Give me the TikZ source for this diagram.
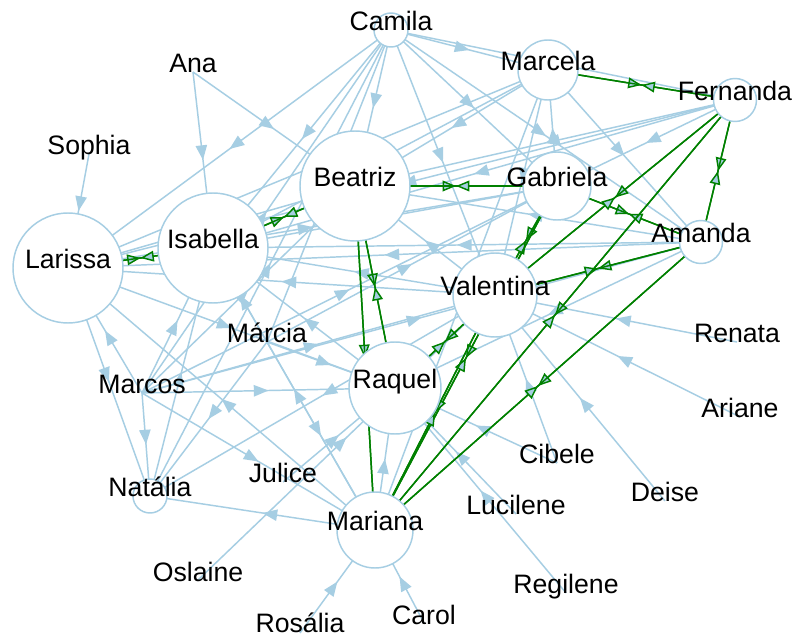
\documentclass[tikz,border=0pt]{standalone}
\usepackage{fontspec}
\setmainfont{Liberation Sans}
\usepackage{xcolor}
\usepackage{tikz}
\usetikzlibrary{arrows.meta,decorations.markings}

\definecolor{edgeblue}{RGB}{166,206,227}
\definecolor{pairgreen}{RGB}{0,128,0}

\pgfdeclarelayer{bg}
\pgfsetlayers{bg,main}

\tikzset{
  vtx/.style={circle, draw=edgeblue, fill=white, line width=1.1pt, inner sep=0pt, minimum size=#1*1.5pt},
  bare/.style={inner sep=0pt, minimum size=0pt},
  lbl/.style={anchor=base, inner sep=0pt, font=\fontsize{20}{21}\selectfont},
  link/.style={edgeblue, line width=1.1pt, postaction={decorate},
    decoration={markings, mark=at position 0.5 with {\arrow{Triangle[length=11pt,width=8.5pt]}}}},
  pair/.style={pairgreen, line width=1.1pt, postaction={decorate},
    decoration={markings, mark=at position 0.5 with {\arrow{Triangle[length=10pt,width=8pt,fill=edgeblue]}}}}
}

\begin{document}
\begin{tikzpicture}[x=0.75pt,y=-0.75pt]
  \useasboundingbox (0,0) rectangle (794,638);

  % Vertices
  \node[vtx=17] (cam) at (391,30) {};
  \node[bare] (ana) at (193,72) {};
  \node[bare] (sop) at (89,154) {};
  \node[vtx=30] (mcl) at (548,70) {};
  \node[vtx=21.5] (fer) at (735,100) {};
  \node[vtx=55] (bea) at (355,186) {};
  \node[vtx=34] (gab) at (557,186) {};
  \node[vtx=55] (isa) at (213,248) {};
  \node[vtx=55] (lar) at (68,268) {};
  \node[vtx=21.5] (ama) at (701,242) {};
  \node[vtx=42] (val) at (495,295) {};
  \node[bare] (ren) at (737,342) {};
  \node[bare] (mci) at (267,342) {};
  \node[bare] (mco) at (142,393) {};
  \node[vtx=46] (raq) at (395,388) {};
  \node[bare] (ari) at (740,417) {};
  \node[bare] (cib) at (557,463) {};
  \node[bare] (jul) at (283,482) {};
  \node[vtx=17] (nat) at (150,496) {};
  \node[vtx=38] (mar) at (375,530) {};
  \node[bare] (luc) at (516,514) {};
  \node[bare] (dei) at (665,501) {};
  \node[bare] (osl) at (198,580) {};
  \node[bare] (reg) at (566,593) {};
  \node[bare] (ros) at (300,633) {};
  \node[bare] (car) at (424,623) {};

  % Labels
  \node[lbl] (cam-t) at (391,31) {Camila};
  \node[lbl] (ana-t) at (193,73) {Ana};
  \node[lbl] (sop-t) at (89,155) {Sophia};
  \node[lbl] (mcl-t) at (548,71) {Marcela};
  \node[lbl] (fer-t) at (735,101) {Fernanda};
  \node[lbl] (bea-t) at (355,187) {Beatriz};
  \node[lbl] (gab-t) at (557,187) {Gabriela};
  \node[lbl] (isa-t) at (213,249) {Isabella};
  \node[lbl] (lar-t) at (68,269) {Larissa};
  \node[lbl] (ama-t) at (701,243) {Amanda};
  \node[lbl] (val-t) at (495,296) {Valentina};
  \node[lbl] (ren-t) at (737,343) {Renata};
  \node[lbl] (mci-t) at (267,343) {Márcia};
  \node[lbl] (mco-t) at (142,394) {Marcos};
  \node[lbl] (raq-t) at (395,389) {Raquel};
  \node[lbl] (ari-t) at (740,418) {Ariane};
  \node[lbl] (cib-t) at (557,464) {Cibele};
  \node[lbl] (jul-t) at (283,483) {Julice};
  \node[lbl] (nat-t) at (150,497) {Natália};
  \node[lbl] (mar-t) at (375,531) {Mariana};
  \node[lbl] (luc-t) at (516,515) {Lucilene};
  \node[lbl] (dei-t) at (665,502) {Deise};
  \node[lbl] (osl-t) at (198,581) {Oslaine};
  \node[lbl] (reg-t) at (566,594) {Regilene};
  \node[lbl] (ros-t) at (300,633) {Rosália};
  \node[lbl] (car-t) at (424,624) {Carol};

  \begin{pgfonlayer}{bg}
  \fill[white] (0,0) rectangle (794,638);

  % Camila, Ana, Sophia
  \draw[link] (cam.center) -- (lar.center);
  \draw[link] (cam.center) -- (isa.center);
  \draw[link] (cam.center) -- (bea.center);
  \draw[link] (cam.center) -- (mcl.center);
  \draw[link] (cam.center) -- (fer.center);
  \draw[link] (cam.center) -- (gab.center);
  \draw[link] (cam.center) -- (val.center);
  \draw[link] (cam.center) -- (ama.center);
  \draw[link] (cam.center) -- (mci.center);
  \draw[link] (ana.center) -- (isa.center);
  \draw[link] (ana.center) -- (bea.center);
  \draw[link] (sop.center) -- (lar.center);

  % Marcela, Fernanda, Amanda
  \draw[link] (mcl.center) -- (bea.center);
  \draw[link] (mcl.center) -- (isa.center);
  \draw[link] (mcl.center) -- (lar.center);
  \draw[link] (mcl.center) -- (ama.center);
  \draw[link] (mcl.center) -- (val.center);
  \draw[link] (mcl.center) -- (mar.center);
  \draw[link] (gab.center) -- (mcl.center);
  \draw[link] (fer.center) -- (bea.center);
  \draw[link] (fer.center) -- (isa.center);
  \draw[link] (fer.center) -- (lar.center);
  \draw[link] (fer.center) -- (gab.center);
  \draw[link] (ama.center) -- (bea.center);
  \draw[link] (ama.center) -- (isa.center);
  \draw[link] (ama.center) -- (lar.center);
  \draw[link] (ama.center) -- (raq.center);

  % Valentina, Larissa
  \draw[link] (val.center) -- (bea.center);
  \draw[link] (val.center) -- (isa.center);
  \draw[link] (val.center) -- (lar.center);
  \draw[link] (val.center) -- (nat.center);
  \draw[link] (lar.center) -- (bea.center);
  \draw[link] (lar.center) -- (gab.center);
  \draw[link] (lar.center) -- (raq.center);
  \draw[link] (lar.center) -- (nat.center);
  \draw[link] (isa.center) -- (gab.center);

  % Marcos
  \draw[link] (mco.center) -- (lar.center);
  \draw[link] (mco.center) -- (isa.center);
  \draw[link] (mco.center) -- (bea.center);
  \draw[link] (mco.center) -- (cam.center);
  \draw[link] (mco.center) -- (gab.center);
  \draw[link] (mco.center) -- (val.center);
  \draw[link] (mco.center) -- (ama.center);
  \draw[link] (mco.center) -- (raq.center);
  \draw[link] (mco.center) -- (nat.center);
  \draw[link] (mco.center) -- (mar.center);

  % Marcia, Natalia, Raquel, Mariana
  \draw[link] (mci.center) -- (isa.center);
  \draw[link] (mci.center) -- (gab.center);
  \draw[link] (mci.center) -- (raq.center);
  \draw[link] (mci.center) -- (mar.center);
  \draw[link] (mci.center) -- (nat.center);
  \draw[link] (nat.center) -- (isa.center);
  \draw[link] (nat.center) -- (cam.center);
  \draw[link] (raq.center) -- (isa.center);
  \draw[link] (mar.center) -- (raq.center);
  \draw[link] (mar.center) -- (isa.center);
  \draw[link] (mar.center) -- (nat.center);
  \draw[link] (mar.center) -- (lar.center);

  % Outer names
  \draw[link] (osl.center) -- (val.center);
  \draw[link] (jul.center) -- (raq.center);
  \draw[link] (ros.center) -- (mar.center);
  \draw[link] (car.center) -- (mar.center);
  \draw[link] (cib.center) -- (val.center);
  \draw[link] (cib.center) -- (raq.center);
  \draw[link] (luc.center) -- (raq.center);
  \draw[link] (reg.center) -- (raq.center);
  \draw[link] (dei.center) -- (val.center);
  \draw[link] (ren.center) -- (val.center);
  \draw[link] (ari.center) -- (val.center);

  % Mutual pairs
  \draw[pair] (lar.center) -- (isa.center);
  \draw[pair] (isa.center) -- (lar.center);
  \draw[pair] (isa.center) -- (bea.center);
  \draw[pair] (bea.center) -- (isa.center);
  \draw[pair] (bea.center) -- (gab.center);
  \draw[pair] (gab.center) -- (bea.center);
  \draw[pair] (mcl.center) -- (fer.center);
  \draw[pair] (fer.center) -- (mcl.center);
  \draw[pair] (fer.center) -- (ama.center);
  \draw[pair] (ama.center) -- (fer.center);
  \draw[pair] (gab.center) -- (ama.center);
  \draw[pair] (ama.center) -- (gab.center);
  \draw[pair] (ama.center) -- (val.center);
  \draw[pair] (val.center) -- (ama.center);
  \draw[pair] (bea.center) -- (raq.center);
  \draw[pair] (raq.center) -- (bea.center);
  \draw[pair] (bea.center) -- (mar.center);
  \draw[pair] (mar.center) -- (bea.center);
  \draw[pair] (gab.center) -- (val.center);
  \draw[pair] (val.center) -- (gab.center);
  \draw[pair] (gab.center) -- (mar.center);
  \draw[pair] (mar.center) -- (gab.center);
  \draw[pair] (val.center) -- (raq.center);
  \draw[pair] (raq.center) -- (val.center);
  \draw[pair] (val.center) -- (mar.center);
  \draw[pair] (mar.center) -- (val.center);
  \draw[pair] (fer.center) -- (val.center);
  \draw[pair] (val.center) -- (fer.center);
  \draw[pair] (fer.center) -- (mar.center);
  \draw[pair] (mar.center) -- (fer.center);
  \draw[pair] (ama.center) -- (mar.center);
  \draw[pair] (mar.center) -- (ama.center);
  \end{pgfonlayer}
\end{tikzpicture}
\end{document}
